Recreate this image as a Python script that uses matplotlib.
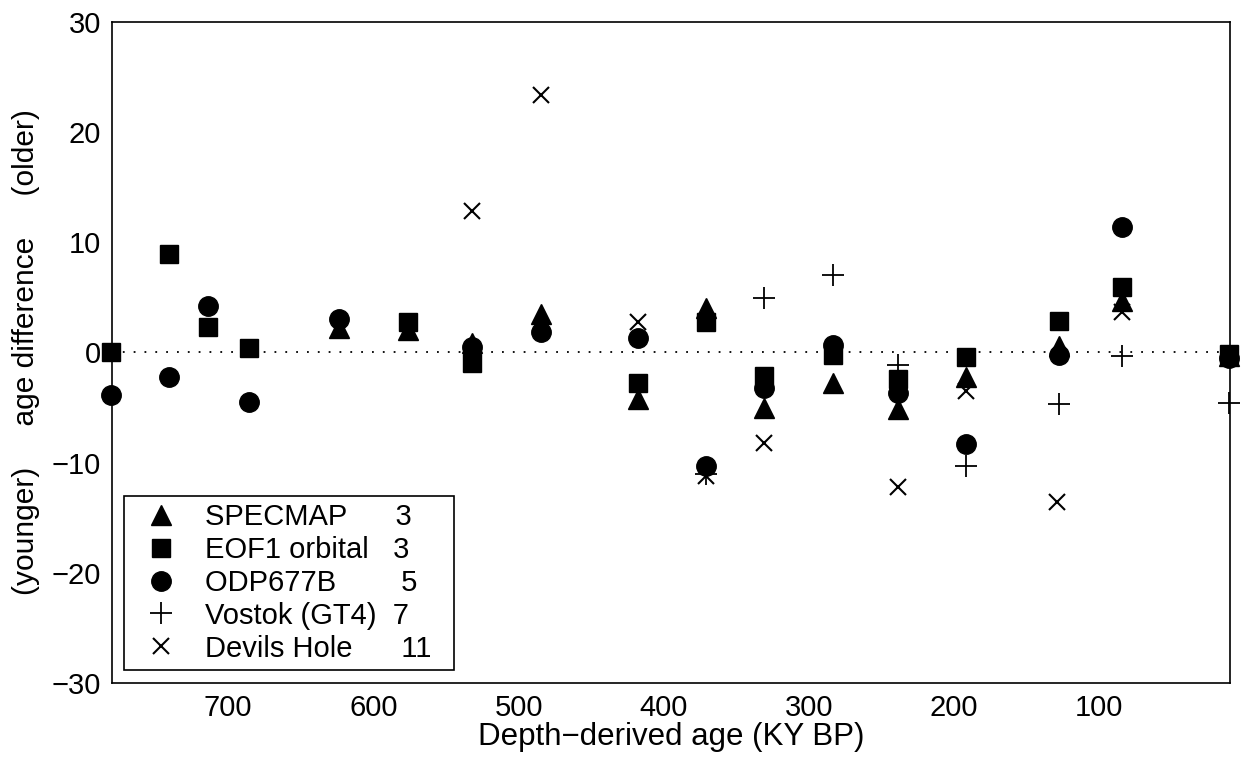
import matplotlib.pyplot as plt

# --- Age difference between tuned records and depth-derived ages ---
plt.rcParams['font.family'] = ['Liberation Sans', 'DejaVu Sans']

# SPECMAP
specmap_x = [624, 576, 532, 484.5, 418, 371, 331, 283.6, 238.6, 191.5, 128, 84.6, 10.6]
specmap_y = [2.2, 2.0, 0.9, 3.5, -4.2, 4.0, -5.0, -2.8, -5.1, -2.2, 0.6, 4.7, -0.3]

# EOF1 orbital
eof1_x = [781, 741, 714, 686, 576, 532, 418, 371, 331, 283.6, 238.6, 191.5, 128, 84.6, 10.6]
eof1_y = [0.0, 8.9, 2.3, 0.4, 2.8, -1.0, -2.8, 2.8, -2.1, -0.2, -2.4, -0.4, 2.9, 5.9, -0.1]

# ODP677B
odp_x = [781, 741, 714, 686, 624, 532, 484.5, 418, 371, 331, 283.6, 238.6, 191.5, 128, 84.6, 10.6]
odp_y = [-3.9, -2.2, 4.2, -4.5, 3.0, 0.5, 1.9, 1.3, -10.3, -3.2, 0.7, -3.7, -8.3, -0.2, 11.4, -0.5]

# Vostok (GT4)
vostok_x = [371, 331, 283.6, 238.6, 191.5, 128, 84.6, 10.6]
vostok_y = [-11.0, 4.9, 7.0, -1.1, -10.3, -4.7, -0.3, -4.6]

# Devils Hole
devils_x = [532, 484.5, 418, 371, 331, 238.6, 191.5, 128.9, 84.6]
devils_y = [12.8, 23.4, 2.8, -11.2, -8.2, -12.2, -3.5, -13.6, 3.7]

labels = ['SPECMAP      3', 'EOF1 orbital   3', 'ODP677B        5',
          'Vostok (GT4)  7', 'Devils Hole      11  ']

fig = plt.figure(figsize=(12.49, 7.58), dpi=100)
ax = fig.add_axes([0.0897, 0.099, 0.8951, 0.872])

ax.axhline(0, color='black', linestyle=(0, (1, 5)), linewidth=1.3, zorder=1)

ax.plot(specmap_x, specmap_y, '^', color='black', markersize=15, clip_on=False, label=labels[0])
ax.plot(eof1_x, eof1_y, 's', color='black', markersize=12.5, clip_on=False, label=labels[1])
ax.plot(odp_x, odp_y, 'o', color='black', markersize=14, clip_on=False, label=labels[2])
ax.plot(vostok_x, vostok_y, '+', color='black', markersize=16, markeredgewidth=1.3,
        clip_on=False, label=labels[3])
ax.plot(devils_x, devils_y, 'x', color='black', markersize=11, markeredgewidth=1.5,
        clip_on=False, label=labels[4])

ax.set_xlim(780, 10)
ax.set_ylim(-30, 30)
ax.set_xticks([700, 600, 500, 400, 300, 200, 100])
ax.set_yticks([-30, -20, -10, 0, 10, 20, 30])
ax.tick_params(length=0, labelsize=21, pad=8)
for s in ax.spines.values():
    s.set_linewidth(1.2)

ax.set_xlabel('Depth\u2212derived age (KY BP)', fontsize=22.5, labelpad=0)
ax.set_ylabel('(younger)     age difference     (older)', fontsize=21.5, labelpad=8)

leg = ax.legend(loc='lower left', bbox_to_anchor=(0.011, 0.0197), borderaxespad=0,
                fontsize=21, fancybox=False, framealpha=1, edgecolor='black',
                labelspacing=0.17, handletextpad=0.5, borderpad=0.25, handlelength=2.0)
leg.get_frame().set_linewidth(1.2)

fig.savefig('out.png', dpi=100)
